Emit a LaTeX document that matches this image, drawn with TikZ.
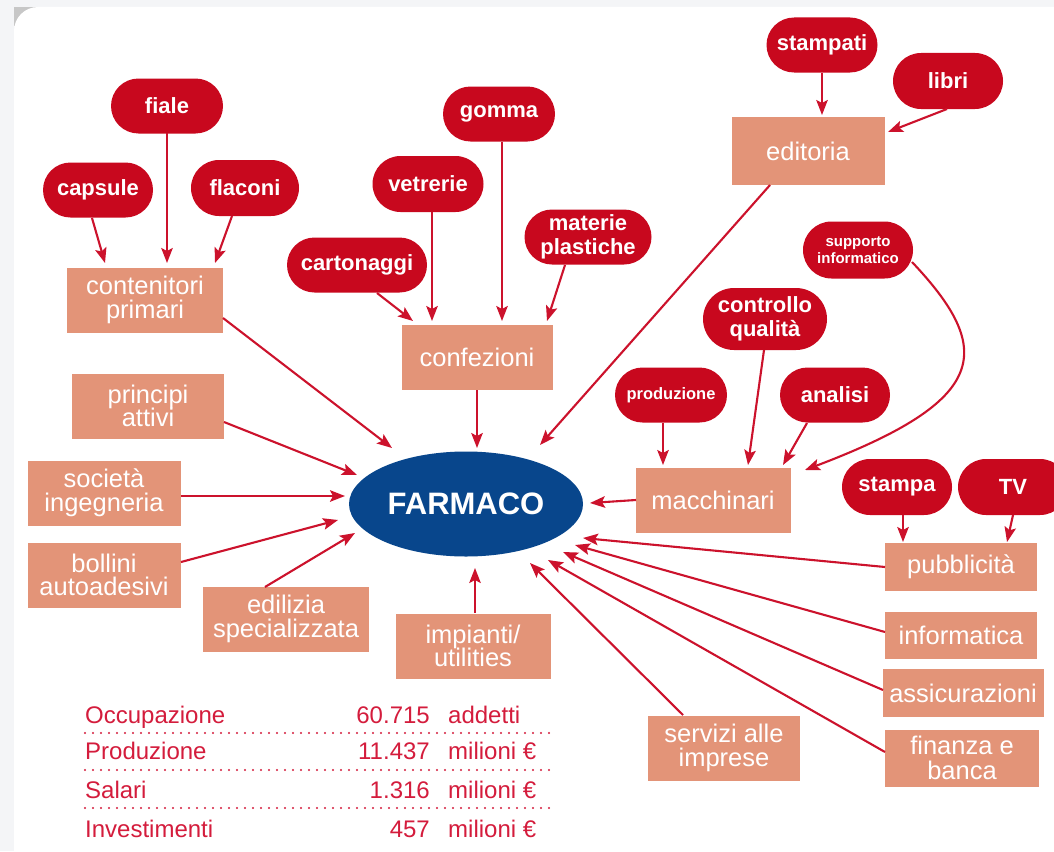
\documentclass[tikz,border=0pt]{standalone}
\usepackage{fontspec}
\setmainfont{Liberation Sans}
\usetikzlibrary{shapes.misc,shapes.geometric,arrows.meta,calc}
\definecolor{pillred}{RGB}{200,8,30}
\definecolor{boxsal}{RGB}{227,148,120}
\definecolor{fblue}{RGB}{8,70,140}
\definecolor{arrred}{RGB}{204,18,44}
\definecolor{tabred}{RGB}{212,28,60}
\definecolor{bgout}{RGB}{244,245,247}
\newcommand\mytightls{\lineskiplimit -30pt\relax}
\newcommand\pillfont{\bfseries\fontsize{22}{24}\selectfont\mytightls}
\newcommand\boxfont{\fontsize{25.5}{23.5}\selectfont\mytightls}
\newcommand\finfont{\fontsize{25.5}{24.5}\selectfont\mytightls}
\newcommand\supfont{\bfseries\fontsize{15}{17}\selectfont\mytightls}
\newcommand\prodfont{\bfseries\fontsize{16.5}{18}\selectfont}
\newcommand\farmfont{\bfseries\fontsize{31}{31}\selectfont}
\newcommand\tabfont{\fontsize{24}{24}\selectfont}
\begin{document}
\begin{tikzpicture}[x=1pt,y=-1pt,
 pill/.style={rounded rectangle, fill=pillred, text=white, inner sep=0pt, align=center,
   font=\pillfont, minimum height=55pt},
 bx/.style={rectangle, fill=boxsal, text=white, inner sep=0pt, align=center,
   font=\boxfont, minimum height=65pt},
 arr/.style={draw=arrred, line width=2.1pt, -{Stealth[length=15pt,width=11.5pt,inset=3pt]}},
 tab/.style={text=tabred, inner sep=0pt, font=\tabfont},
 dotrule/.style={draw=tabred, line width=2.4pt, line cap=round, dash pattern=on 0pt off 8pt}]
\useasboundingbox (0,0) rectangle (1054,851);
% background
\fill[bgout] (0,0) rectangle (1054,851);
\fill[black!22] (14,7) rectangle (42,26);
\fill[white, rounded corners=24pt] (14,7) rectangle (1100,900);

% ---- nodes ----
\node[pill, minimum width=112pt] (fiale) at (167,106) {fiale};
\node[pill, minimum width=110pt] (caps) at (98,190) {capsule};
\node[pill, minimum width=108pt, minimum height=56pt] (flac) at (245,188) {flaconi};
\node[bx, minimum width=156pt] (cont) at (145,300) {contenitori\\primari};

\node[pill, minimum width=112pt] (gom) at (499,114) {gomma};
\node[pill, minimum width=111pt, minimum height=56pt] (vet) at (428,184) {vetrerie};
\node[pill, minimum width=140pt] (cart) at (357,265) {cartonaggi};
\node[pill, minimum width=127pt] (mat) at (588,237) {materie\\plastiche};
\node[bx, minimum width=151pt] (conf) at (477,357) {confezioni};

\node[pill, minimum width=111pt] (stp) at (822,45) {stampati};
\node[pill, minimum width=110pt, minimum height=56pt] (lib) at (948,81) {libri};
\node[bx, minimum width=153pt, minimum height=68pt] (edi) at (808,151) {editoria};

\node[pill, minimum width=110pt, minimum height=57pt, font=\supfont] (sup) at (858,250) {supporto\\informatico};
\node[pill, minimum width=124pt, minimum height=62pt] (ctrl) at (765,319) {controllo\\qualità};
\node[pill, minimum width=112pt, font=\prodfont] (prod) at (671,395) {produzione};
\node[pill, minimum width=110pt] (anl) at (835,395) {analisi};
\node[bx, minimum width=155pt] (mac) at (713,500) {macchinari};

\node[pill, minimum width=110pt, minimum height=56pt] (stm) at (897,487) {stampa};
\node[pill, minimum width=110pt, minimum height=56pt] (tv) at (1013,487) {TV};
\node[bx, minimum width=152pt, minimum height=48pt] (pub) at (961,567) {pubblicità};
\node[bx, minimum width=152pt, minimum height=47pt] (inf) at (961,635) {informatica};
\node[bx, minimum width=161pt, minimum height=48pt] (ass) at (963,693) {assicurazioni};
\node[bx, minimum width=154pt, minimum height=57pt, font=\finfont] (fin) at (962,758) {finanza e\\banca};

\node[bx, minimum width=152pt] (pri) at (148,406) {principi\\attivi};
\node[bx, minimum width=153pt] (soc) at (104,493) {società\\ingegneria};
\node[bx, minimum width=153pt] (bol) at (104,575) {bollini\\autoadesivi};
\node[bx, minimum width=166pt] (edil) at (286,619) {edilizia\\specializzata};
\node[bx, minimum width=155pt] (imp) at (473,646) {impianti/\\utilities};
\node[bx, minimum width=152pt] (serv) at (724,748) {servizi alle\\imprese};

\node[ellipse, fill=fblue, minimum width=234pt, minimum height=105pt, inner sep=0pt, text=white,
  font=\farmfont] (F) at (466,504) {FARMACO};

% ---- connectors to intermediate boxes ----
\draw[arr] ($(caps)+(-6,28)$) -- ($(cont)+(-40,-37)$);
\draw[arr] ($(fiale)+(0,27)$) -- ($(cont)+(22,-37)$);
\draw[arr] ($(flac)+(-13,28)$) -- ($(cont)+(70,-37)$);

\draw[arr] ($(cart)+(20,28)$) -- ($(conf)+(-64,-36)$);
\draw[arr] ($(vet)+(4,28)$) -- ($(conf)+(-45,-36)$);
\draw[arr] ($(gom)+(3,28)$) -- ($(conf)+(25,-36)$);
\draw[arr] ($(mat)+(-23,28)$) -- ($(conf)+(70,-36)$);

\draw[arr] ($(stp)+(0,28)$) -- ($(edi)+(14,-36)$);
\draw[arr] ($(lib)+(-1,28)$) -- ($(edi)+(80,-19)$);

\draw[arr] ($(prod)+(-8,28)$) -- ($(mac)+(-50,-35)$);
\draw[arr] ($(ctrl)+(-1,31)$) -- ($(mac)+(35,-35)$);
\draw[arr] ($(anl)+(-28,28)$) -- ($(mac)+(70,-35)$);
\draw[arr] ($(sup)+(54,12)$) .. controls ($(sup)+(137,100)$) and ($(mac)+(277,-100)$) .. ($(mac)+(92,-30)$);

\draw[arr] ($(stm)+(6,28)$) -- ($(pub)+(-58,-25)$);
\draw[arr] ($(tv)+(0,28)$) -- ($(pub)+(46,-25)$);

% ---- connectors to FARMACO ----
\draw[arr] ($(cont)+(78,18)$) -- ($(F)+(-74,-56)$);
\draw[arr] ($(conf)+(0,33)$) -- ($(F)+(11,-56)$);
\draw[arr] ($(edi)+(-38,34)$) -- ($(F)+(74,-59)$);
\draw[arr] ($(pri)+(76,16)$) -- ($(F)+(-109,-29)$);
\draw[arr] ($(soc)+(77,3)$) -- ($(F)+(-121,-8)$);
\draw[arr] ($(bol)+(77,-13)$) -- ($(F)+(-128,16)$);
\draw[arr] ($(edil)+(-21,-32)$) -- ($(F)+(-111,29)$);
\draw[arr] ($(imp)+(2,-33)$) -- ($(F)+(9,64)$);
\draw[arr] ($(serv)+(-41,-33)$) -- ($(F)+(64,59)$);
\draw[arr] ($(mac)+(-77,0)$) -- ($(F)+(124,-1)$);
\draw[arr] ($(pub)+(-76,0)$) -- ($(F)+(117,34)$);
\draw[arr] ($(inf)+(-76,-3)$) -- ($(F)+(109,41)$);
\draw[arr] ($(ass)+(-80,-3)$) -- ($(F)+(97,48)$);
\draw[arr] ($(fin)+(-77,-6)$) -- ($(F)+(82,56)$);

% ---- table ----
\node[tab, anchor=base west] (r1a) at (85,723) {Occupazione};
\node[tab, anchor=base east] (r1b) at (430,723) {60.715};
\node[tab, anchor=base west] (r1c) at (448,723) {addetti};
\node[tab, anchor=base west] (r2a) at (85,759) {Produzione};
\node[tab, anchor=base east] (r2b) at (430,759) {11.437};
\node[tab, anchor=base west] (r2c) at (448,759) {milioni €};
\node[tab, anchor=base west] (r3a) at (85,798) {Salari};
\node[tab, anchor=base east] (r3b) at (430,798) {1.316};
\node[tab, anchor=base west] (r3c) at (448,798) {milioni €};
\node[tab, anchor=base west] (r4a) at (85,837) {Investimenti};
\node[tab, anchor=base east] (r4b) at (430,837) {457};
\node[tab, anchor=base west] (r4c) at (448,837) {milioni €};
\draw[dotrule] (85,733) -- (553,733);
\draw[dotrule] (85,770) -- (553,770);
\draw[dotrule] (85,808) -- (553,808);
\end{tikzpicture}
\end{document}
